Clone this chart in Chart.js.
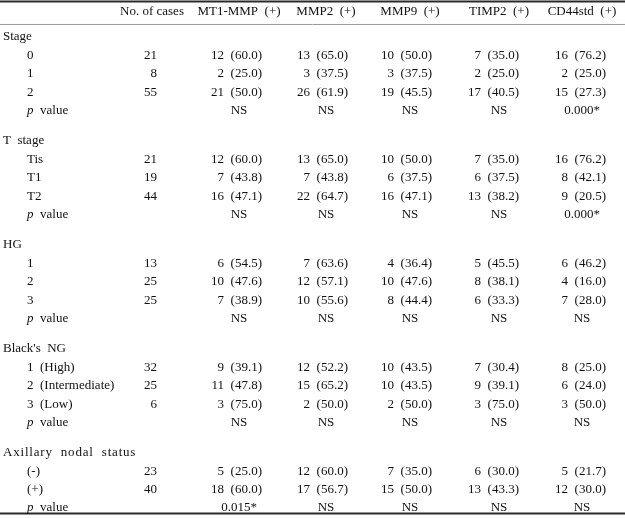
<!DOCTYPE html>
<html><head><meta charset="utf-8">
<script src="https://cdn.jsdelivr.net/npm/chart.js@4.4.1/dist/chart.umd.min.js"></script>
<style>html,body{margin:0;padding:0;background:#fff}#wrap{width:625px;height:518px;position:relative}</style>
</head><body><div id="wrap"><canvas id="c"></canvas></div>
<script>
// ---------- data ----------
const columnHeaders = ['No. of cases', 'MT1-MMP  (+)', 'MMP2  (+)', 'MMP9  (+)', 'TIMP2  (+)', 'CD44std  (+)'];
const sectionTitles = ['Stage', 'T  stage', 'HG', "Black's  NG", 'Axillary  nodal  status'];
const rowLabels = [['0', '1', '2'], ['Tis', 'T1', 'T2'], ['1', '2', '3'], ['1  (High)', '2  (Intermediate)', '3  (Low)'], ['(-)', '(+)']];
const cases = [[21, 8, 55], [21, 19, 44], [13, 25, 25], [32, 25, 6], [23, 40]];

const mt1mmpN   = [[12, 2, 21], [12, 7, 16], [6, 10, 7], [9, 11, 3], [5, 18]];
const mt1mmpPct = [[60.0, 25.0, 50.0], [60.0, 43.8, 47.1], [54.5, 47.6, 38.9], [39.1, 47.8, 75.0], [25.0, 60.0]];
const mt1mmpP   = ['NS', 'NS', 'NS', 'NS', '0.015*'];

const mmp2N   = [[13, 3, 26], [13, 7, 22], [7, 12, 10], [12, 15, 2], [12, 17]];
const mmp2Pct = [[65.0, 37.5, 61.9], [65.0, 43.8, 64.7], [63.6, 57.1, 55.6], [52.2, 65.2, 50.0], [60.0, 56.7]];
const mmp2P   = ['NS', 'NS', 'NS', 'NS', 'NS'];

const mmp9N   = [[10, 3, 19], [10, 6, 16], [4, 10, 8], [10, 10, 2], [7, 15]];
const mmp9Pct = [[50.0, 37.5, 45.5], [50.0, 37.5, 47.1], [36.4, 47.6, 44.4], [43.5, 43.5, 50.0], [35.0, 50.0]];
const mmp9P   = ['NS', 'NS', 'NS', 'NS', 'NS'];

const timp2N   = [[7, 2, 17], [7, 6, 13], [5, 8, 6], [7, 9, 3], [6, 13]];
const timp2Pct = [[35.0, 25.0, 40.5], [35.0, 37.5, 38.2], [45.5, 38.1, 33.3], [30.4, 39.1, 75.0], [30.0, 43.3]];
const timp2P   = ['NS', 'NS', 'NS', 'NS', 'NS'];

const cd44N   = [[16, 2, 15], [16, 8, 9], [6, 4, 7], [8, 6, 3], [5, 12]];
const cd44Pct = [[76.2, 25.0, 27.3], [76.2, 42.1, 20.5], [46.2, 16.0, 28.0], [25.0, 24.0, 50.0], [21.7, 30.0]];
const cd44P   = ['0.000*', '0.000*', 'NS', 'NS', 'NS'];

// ---------- layout (not data) ----------
const L = {
  xMax: 625,
  titleX: 3, indentX: 27,
  titleSpacing: [0, 0, 0, 0, 0.8],
  colCenter: [152, 239, 326, 410, 499, 582],
  colRight:  [157, 262, 348, 432, 519, 606],
  rowStep: 18.4, firstRowPx: 37, headerGap: 1.36, sectionGap: 1.65,
  rules: [{pos: 'top', off: 0.08, w: 2, c: '#2a2a2a'}, {pos: 'header', off: 1.33, w: 1, c: '#9a9a9a'}, {pos: 'bottom', off: 0.3, w: 2, c: '#2a2a2a'}],
  font: '"Liberation Serif", "Times New Roman", serif', size: 13, color: '#111111'
};

const markerN = [mt1mmpN, mmp2N, mmp9N, timp2N, cd44N];
const markerPct = [mt1mmpPct, mmp2Pct, mmp9Pct, timp2Pct, cd44Pct];
const markerP = [mt1mmpP, mmp2P, mmp9P, timp2P, cd44P];

// Build row positions (in row units) from the table structure
const titleRows = [], subRows = [], pRows = [];
let y = 0;
sectionTitles.forEach((t, s) => {
  titleRows.push(y); y += 1;
  const sr = [];
  rowLabels[s].forEach(() => { sr.push(y); y += 1; });
  subRows.push(sr);
  pRows.push(y);
  if (s < sectionTitles.length - 1) y += L.sectionGap;
});
const lastRow = y;
const headerRow = -L.headerGap;
const yMin = -L.firstRowPx / L.rowStep;
const yMax = yMin + 518 / L.rowStep;

function textSet(points, texts, align, extra) {
  return Object.assign({type: 'scatter', data: points, texts, textAlign: align, pointRadius: 0, pointHoverRadius: 0, clip: false}, extra || {});
}
const datasets = [];
// header
datasets.push(textSet(columnHeaders.map((h, i) => ({x: L.colCenter[i], y: headerRow})), columnHeaders, 'center'));
// section titles
datasets.push(textSet(titleRows.map(r => ({x: L.titleX, y: r})), sectionTitles, 'left', {spacing: L.titleSpacing}));
// sub labels
datasets.push(textSet(subRows.flat().map(r => ({x: L.indentX, y: r})), rowLabels.flat(), 'left'));
// p value labels
datasets.push(textSet(pRows.map(r => ({x: L.indentX, y: r})), pRows.map(() => 'p'), 'left', {pLabel: true}));
// cases
datasets.push(textSet(subRows.flat().map(r => ({x: L.colRight[0], y: r})), cases.flat().map(String), 'right'));
// markers
markerN.forEach((nArr, m) => {
  const pts = subRows.flat().map(r => ({x: L.colRight[m + 1], y: r}));
  const txt = nArr.flat().map((n, k) => n + '  (' + markerPct[m].flat()[k].toFixed(1) + ')');
  datasets.push(textSet(pts, txt, 'right'));
  datasets.push(textSet(pRows.map(r => ({x: L.colCenter[m + 1], y: r})), markerP[m], 'center'));
});
// rules
const rulePos = {top: yMin + L.rules[0].off, header: yMin + L.rules[1].off, bottom: lastRow + L.rules[2].off};
L.rules.forEach(rl => {
  datasets.push({type: 'scatter', showLine: true, data: [{x: 0, y: rulePos[rl.pos]}, {x: L.xMax, y: rulePos[rl.pos]}],
    borderColor: rl.c, borderWidth: rl.w, pointRadius: 0, clip: false});
});

const tablePlugin = {
  id: 'tableText',
  afterDatasetsDraw(chart) {
    const ctx = chart.ctx;
    ctx.save();
    ctx.fillStyle = L.color;
    ctx.textBaseline = 'middle';
    chart.data.datasets.forEach((ds, i) => {
      if (!ds.texts) return;
      const meta = chart.getDatasetMeta(i);
      meta.data.forEach((el, j) => {
        const t = ds.texts[j];
        ctx.letterSpacing = (ds.spacing && ds.spacing[j] ? ds.spacing[j] : 0) + 'px';
        if (ds.pLabel) {
          ctx.textAlign = 'left';
          ctx.font = 'italic ' + L.size + 'px ' + L.font;
          ctx.fillText('p', el.x, el.y);
          const w = ctx.measureText('p').width;
          ctx.font = L.size + 'px ' + L.font;
          ctx.fillText('  value', el.x + w, el.y);
        } else {
          ctx.font = L.size + 'px ' + L.font;
          ctx.textAlign = ds.textAlign;
          ctx.fillText(t, el.x, el.y);
        }
      });
    });
    ctx.letterSpacing = '0px';
    ctx.restore();
  }
};

new Chart(document.getElementById('c'), {
  data: {datasets},
  options: {
    responsive: true, maintainAspectRatio: false, animation: false,
    layout: {padding: 0},
    plugins: {legend: {display: false}, tooltip: {enabled: false}},
    events: [],
    scales: {
      x: {type: 'linear', min: 0, max: L.xMax, display: false},
      y: {type: 'linear', min: yMin, max: yMax, reverse: true, display: false}
    }
  },
  plugins: [tablePlugin]
});
</script></body></html>
